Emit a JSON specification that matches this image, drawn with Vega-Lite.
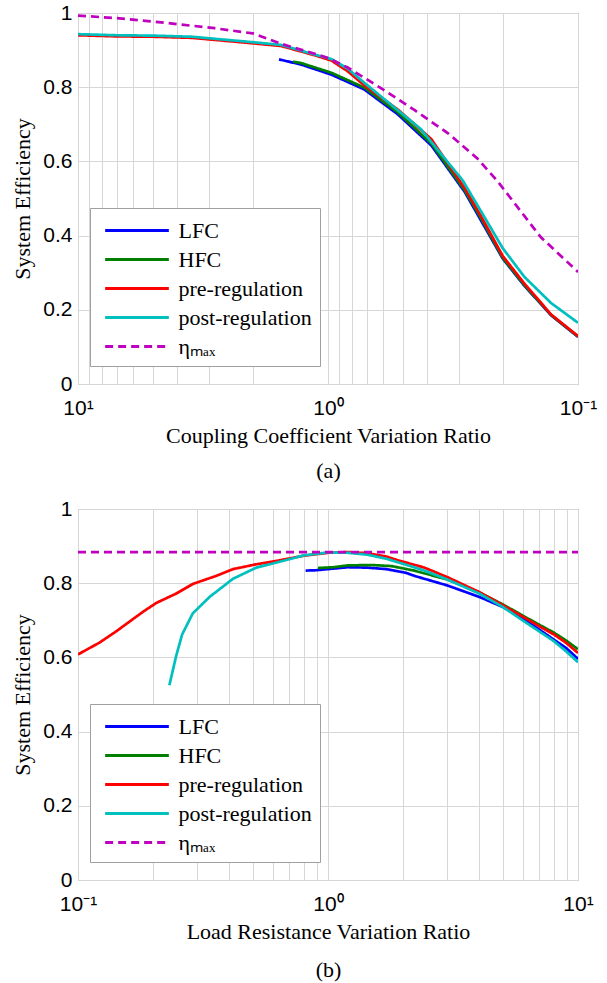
{
  "$schema": "https://vega.github.io/schema/vega-lite/v6.json",
  "background": "white",
  "padding": {"left": 11, "top": 1, "right": 10, "bottom": 5},
  "spacing": 125,
  "bounds": "flush",
  "datasets": {
    "top": [
      {"series": "LFC", "ratio": 1.57, "efficiency": 0.875},
      {"series": "LFC", "ratio": 1.28, "efficiency": 0.861},
      {"series": "LFC", "ratio": 0.97, "efficiency": 0.834},
      {"series": "LFC", "ratio": 0.716, "efficiency": 0.794},
      {"series": "LFC", "ratio": 0.526, "efficiency": 0.727},
      {"series": "LFC", "ratio": 0.386, "efficiency": 0.643},
      {"series": "LFC", "ratio": 0.284, "efficiency": 0.518},
      {"series": "LFC", "ratio": 0.244, "efficiency": 0.44},
      {"series": "LFC", "ratio": 0.2, "efficiency": 0.338},
      {"series": "LFC", "ratio": 0.164, "efficiency": 0.265},
      {"series": "LFC", "ratio": 0.128, "efficiency": 0.185},
      {"series": "LFC", "ratio": 0.1, "efficiency": 0.127},
      {"series": "HFC", "ratio": 1.38, "efficiency": 0.869},
      {"series": "HFC", "ratio": 1.28, "efficiency": 0.865},
      {"series": "HFC", "ratio": 0.97, "efficiency": 0.839},
      {"series": "HFC", "ratio": 0.716, "efficiency": 0.799},
      {"series": "HFC", "ratio": 0.526, "efficiency": 0.732},
      {"series": "HFC", "ratio": 0.386, "efficiency": 0.648},
      {"series": "HFC", "ratio": 0.284, "efficiency": 0.522},
      {"series": "HFC", "ratio": 0.244, "efficiency": 0.446},
      {"series": "HFC", "ratio": 0.2, "efficiency": 0.34},
      {"series": "HFC", "ratio": 0.164, "efficiency": 0.267},
      {"series": "HFC", "ratio": 0.128, "efficiency": 0.186},
      {"series": "HFC", "ratio": 0.1, "efficiency": 0.128},
      {"series": "pre-regulation", "ratio": 10, "efficiency": 0.94},
      {"series": "pre-regulation", "ratio": 7, "efficiency": 0.937},
      {"series": "pre-regulation", "ratio": 5, "efficiency": 0.936},
      {"series": "pre-regulation", "ratio": 3.5, "efficiency": 0.933},
      {"series": "pre-regulation", "ratio": 2.13, "efficiency": 0.92},
      {"series": "pre-regulation", "ratio": 1.54, "efficiency": 0.911},
      {"series": "pre-regulation", "ratio": 1.13, "efficiency": 0.886},
      {"series": "pre-regulation", "ratio": 0.97, "efficiency": 0.872},
      {"series": "pre-regulation", "ratio": 0.834, "efficiency": 0.843},
      {"series": "pre-regulation", "ratio": 0.716, "efficiency": 0.805},
      {"series": "pre-regulation", "ratio": 0.526, "efficiency": 0.74},
      {"series": "pre-regulation", "ratio": 0.386, "efficiency": 0.66},
      {"series": "pre-regulation", "ratio": 0.284, "efficiency": 0.528},
      {"series": "pre-regulation", "ratio": 0.244, "efficiency": 0.452},
      {"series": "pre-regulation", "ratio": 0.2, "efficiency": 0.345},
      {"series": "pre-regulation", "ratio": 0.164, "efficiency": 0.271},
      {"series": "pre-regulation", "ratio": 0.128, "efficiency": 0.187},
      {"series": "pre-regulation", "ratio": 0.1, "efficiency": 0.129},
      {"series": "post-regulation", "ratio": 10, "efficiency": 0.943},
      {"series": "post-regulation", "ratio": 7, "efficiency": 0.94},
      {"series": "post-regulation", "ratio": 5, "efficiency": 0.939},
      {"series": "post-regulation", "ratio": 3.5, "efficiency": 0.936},
      {"series": "post-regulation", "ratio": 2.13, "efficiency": 0.923},
      {"series": "post-regulation", "ratio": 1.54, "efficiency": 0.914},
      {"series": "post-regulation", "ratio": 1.13, "efficiency": 0.888},
      {"series": "post-regulation", "ratio": 0.97, "efficiency": 0.876},
      {"series": "post-regulation", "ratio": 0.834, "efficiency": 0.85},
      {"series": "post-regulation", "ratio": 0.716, "efficiency": 0.812},
      {"series": "post-regulation", "ratio": 0.551, "efficiency": 0.749},
      {"series": "post-regulation", "ratio": 0.425, "efficiency": 0.687},
      {"series": "post-regulation", "ratio": 0.332, "efficiency": 0.598},
      {"series": "post-regulation", "ratio": 0.29, "efficiency": 0.55},
      {"series": "post-regulation", "ratio": 0.244, "efficiency": 0.465},
      {"series": "post-regulation", "ratio": 0.2, "efficiency": 0.366},
      {"series": "post-regulation", "ratio": 0.164, "efficiency": 0.289},
      {"series": "post-regulation", "ratio": 0.128, "efficiency": 0.218},
      {"series": "post-regulation", "ratio": 0.1, "efficiency": 0.165},
      {"series": "ηₘₐₓ", "ratio": 10, "efficiency": 0.993},
      {"series": "ηₘₐₓ", "ratio": 7, "efficiency": 0.986},
      {"series": "ηₘₐₓ", "ratio": 5, "efficiency": 0.977},
      {"series": "ηₘₐₓ", "ratio": 2.84, "efficiency": 0.959},
      {"series": "ηₘₐₓ", "ratio": 2, "efficiency": 0.945},
      {"series": "ηₘₐₓ", "ratio": 1.54, "efficiency": 0.917},
      {"series": "ηₘₐₓ", "ratio": 1.13, "efficiency": 0.89},
      {"series": "ηₘₐₓ", "ratio": 1, "efficiency": 0.879},
      {"series": "ηₘₐₓ", "ratio": 0.834, "efficiency": 0.853},
      {"series": "ηₘₐₓ", "ratio": 0.612, "efficiency": 0.797},
      {"series": "ηₘₐₓ", "ratio": 0.45, "efficiency": 0.738},
      {"series": "ηₘₐₓ", "ratio": 0.33, "efficiency": 0.675},
      {"series": "ηₘₐₓ", "ratio": 0.252, "efficiency": 0.607},
      {"series": "ηₘₐₓ", "ratio": 0.21, "efficiency": 0.547},
      {"series": "ηₘₐₓ", "ratio": 0.141, "efficiency": 0.396},
      {"series": "ηₘₐₓ", "ratio": 0.1, "efficiency": 0.302}
    ],
    "bottom": [
      {"series": "LFC", "ratio": 0.814, "efficiency": 0.834},
      {"series": "LFC", "ratio": 0.9, "efficiency": 0.835},
      {"series": "LFC", "ratio": 1, "efficiency": 0.838},
      {"series": "LFC", "ratio": 1.2, "efficiency": 0.843},
      {"series": "LFC", "ratio": 1.43, "efficiency": 0.842},
      {"series": "LFC", "ratio": 1.71, "efficiency": 0.838},
      {"series": "LFC", "ratio": 2.05, "efficiency": 0.828},
      {"series": "LFC", "ratio": 2.21, "efficiency": 0.82},
      {"series": "LFC", "ratio": 3, "efficiency": 0.794},
      {"series": "LFC", "ratio": 4.03, "efficiency": 0.763},
      {"series": "LFC", "ratio": 5, "efficiency": 0.736},
      {"series": "LFC", "ratio": 6, "efficiency": 0.706},
      {"series": "LFC", "ratio": 7, "efficiency": 0.675},
      {"series": "LFC", "ratio": 8, "efficiency": 0.648},
      {"series": "LFC", "ratio": 8.94, "efficiency": 0.626},
      {"series": "LFC", "ratio": 10, "efficiency": 0.596},
      {"series": "HFC", "ratio": 0.912, "efficiency": 0.841},
      {"series": "HFC", "ratio": 1.05, "efficiency": 0.843},
      {"series": "HFC", "ratio": 1.2, "efficiency": 0.848},
      {"series": "HFC", "ratio": 1.5, "efficiency": 0.849},
      {"series": "HFC", "ratio": 1.8, "efficiency": 0.846},
      {"series": "HFC", "ratio": 2.21, "efficiency": 0.834},
      {"series": "HFC", "ratio": 3, "efficiency": 0.81},
      {"series": "HFC", "ratio": 4.03, "efficiency": 0.775},
      {"series": "HFC", "ratio": 5, "efficiency": 0.743},
      {"series": "HFC", "ratio": 6, "efficiency": 0.713},
      {"series": "HFC", "ratio": 7, "efficiency": 0.688},
      {"series": "HFC", "ratio": 8, "efficiency": 0.667},
      {"series": "HFC", "ratio": 8.94, "efficiency": 0.646},
      {"series": "HFC", "ratio": 10, "efficiency": 0.622},
      {"series": "pre-regulation", "ratio": 0.1, "efficiency": 0.608},
      {"series": "pre-regulation", "ratio": 0.122, "efficiency": 0.64},
      {"series": "pre-regulation", "ratio": 0.142, "efficiency": 0.67},
      {"series": "pre-regulation", "ratio": 0.182, "efficiency": 0.723},
      {"series": "pre-regulation", "ratio": 0.206, "efficiency": 0.747},
      {"series": "pre-regulation", "ratio": 0.247, "efficiency": 0.772},
      {"series": "pre-regulation", "ratio": 0.288, "efficiency": 0.798},
      {"series": "pre-regulation", "ratio": 0.358, "efficiency": 0.82},
      {"series": "pre-regulation", "ratio": 0.417, "efficiency": 0.838},
      {"series": "pre-regulation", "ratio": 0.517, "efficiency": 0.851},
      {"series": "pre-regulation", "ratio": 0.621, "efficiency": 0.86},
      {"series": "pre-regulation", "ratio": 0.8, "efficiency": 0.874},
      {"series": "pre-regulation", "ratio": 1, "efficiency": 0.882},
      {"series": "pre-regulation", "ratio": 1.2, "efficiency": 0.884},
      {"series": "pre-regulation", "ratio": 1.43, "efficiency": 0.881},
      {"series": "pre-regulation", "ratio": 1.71, "efficiency": 0.872},
      {"series": "pre-regulation", "ratio": 1.9, "efficiency": 0.862},
      {"series": "pre-regulation", "ratio": 2.43, "efficiency": 0.842},
      {"series": "pre-regulation", "ratio": 3.01, "efficiency": 0.816},
      {"series": "pre-regulation", "ratio": 4.03, "efficiency": 0.776},
      {"series": "pre-regulation", "ratio": 5, "efficiency": 0.741},
      {"series": "pre-regulation", "ratio": 6, "efficiency": 0.71},
      {"series": "pre-regulation", "ratio": 7, "efficiency": 0.684},
      {"series": "pre-regulation", "ratio": 8, "efficiency": 0.662},
      {"series": "pre-regulation", "ratio": 8.94, "efficiency": 0.64},
      {"series": "pre-regulation", "ratio": 10, "efficiency": 0.612},
      {"series": "post-regulation", "ratio": 0.232, "efficiency": 0.525},
      {"series": "post-regulation", "ratio": 0.247, "efficiency": 0.604},
      {"series": "post-regulation", "ratio": 0.261, "efficiency": 0.662},
      {"series": "post-regulation", "ratio": 0.288, "efficiency": 0.719},
      {"series": "post-regulation", "ratio": 0.336, "efficiency": 0.763},
      {"series": "post-regulation", "ratio": 0.417, "efficiency": 0.812},
      {"series": "post-regulation", "ratio": 0.517, "efficiency": 0.842},
      {"series": "post-regulation", "ratio": 0.66, "efficiency": 0.86},
      {"series": "post-regulation", "ratio": 0.8, "efficiency": 0.875},
      {"series": "post-regulation", "ratio": 1, "efficiency": 0.883},
      {"series": "post-regulation", "ratio": 1.2, "efficiency": 0.882},
      {"series": "post-regulation", "ratio": 1.43, "efficiency": 0.877},
      {"series": "post-regulation", "ratio": 1.71, "efficiency": 0.866},
      {"series": "post-regulation", "ratio": 2, "efficiency": 0.852},
      {"series": "post-regulation", "ratio": 2.43, "efficiency": 0.834},
      {"series": "post-regulation", "ratio": 3, "efficiency": 0.81},
      {"series": "post-regulation", "ratio": 4.03, "efficiency": 0.772},
      {"series": "post-regulation", "ratio": 5, "efficiency": 0.736},
      {"series": "post-regulation", "ratio": 6, "efficiency": 0.7},
      {"series": "post-regulation", "ratio": 7, "efficiency": 0.67},
      {"series": "post-regulation", "ratio": 8, "efficiency": 0.644},
      {"series": "post-regulation", "ratio": 8.94, "efficiency": 0.617},
      {"series": "post-regulation", "ratio": 10, "efficiency": 0.587},
      {"series": "ηₘₐₓ", "ratio": 0.1, "efficiency": 0.884},
      {"series": "ηₘₐₓ", "ratio": 10, "efficiency": 0.884}
    ]
  },
  "vconcat": [
    {
      "width": 500,
      "height": 371,
      "data": {"name": "top"},
      "mark": {"type": "line", "strokeWidth": 2.7, "clip": true},
      "encoding": {
        "x": {
          "field": "ratio", "type": "quantitative",
          "scale": {"type": "log", "domain": [0.1, 10], "reverse": true, "nice": false},
          "axis": {
            "title": ["Coupling Coefficient Variation Ratio", "(a)"],
            "values": [0.1, 0.2, 0.3, 0.4, 0.5, 0.6, 0.7, 0.8, 0.9, 1, 2, 3, 4, 5, 6, 7, 8, 9, 10],
            "labelExpr": "abs(datum.value-10)<1e-6 ? '10¹' : abs(datum.value-1)<1e-6 ? '10⁰' : abs(datum.value-0.1)<1e-6 ? '10⁻¹' : ''",
            "labelOverlap": false, "labelFlush": false, "labelPadding": 13,
            "titlePadding": 7, "titleLineHeight": 35
          }
        },
        "y": {
          "field": "efficiency", "type": "quantitative",
          "scale": {"domain": [0, 1], "nice": false, "zero": false},
          "axis": {
            "title": "System Efficiency",
            "values": [0, 0.2, 0.4, 0.6, 0.8, 1],
            "labelExpr": "datum.value == 0 ? '0' : datum.value == 1 ? '1' : format(datum.value, '.1f')",
            "labelPadding": 6, "titlePadding": 8
          }
        },
        "color": {
          "field": "series", "type": "nominal",
          "scale": {"domain": ["LFC", "HFC", "pre-regulation", "post-regulation", "ηₘₐₓ"], "range": ["#0000FF", "#008000", "#FF0000", "#00BFBF", "#BF00BF"]},
          "legend": {"title": null, "orient": "none", "legendX": 12, "legendY": 195}
        },
        "strokeDash": {
          "field": "series", "type": "nominal",
          "scale": {"domain": ["LFC", "HFC", "pre-regulation", "post-regulation", "ηₘₐₓ"], "range": [[1, 0], [1, 0], [1, 0], [1, 0], [8, 5]]},
          "legend": {"title": null, "orient": "none", "legendX": 12, "legendY": 195}
        }
      }
    },
    {
      "width": 500,
      "height": 371,
      "data": {"name": "bottom"},
      "mark": {"type": "line", "strokeWidth": 2.7, "clip": true},
      "encoding": {
        "x": {
          "field": "ratio", "type": "quantitative",
          "scale": {"type": "log", "domain": [0.1, 10], "nice": false},
          "axis": {
            "title": ["Load Resistance Variation Ratio", "(b)"],
            "values": [0.1, 0.2, 0.3, 0.4, 0.5, 0.6, 0.7, 0.8, 0.9, 1, 2, 3, 4, 5, 6, 7, 8, 9, 10],
            "labelExpr": "abs(datum.value-10)<1e-6 ? '10¹' : abs(datum.value-1)<1e-6 ? '10⁰' : abs(datum.value-0.1)<1e-6 ? '10⁻¹' : ''",
            "labelOverlap": false, "labelFlush": false, "labelPadding": 13,
            "titlePadding": 7, "titleLineHeight": 38
          }
        },
        "y": {
          "field": "efficiency", "type": "quantitative",
          "scale": {"domain": [0, 1], "nice": false, "zero": false},
          "axis": {
            "title": "System Efficiency",
            "values": [0, 0.2, 0.4, 0.6, 0.8, 1],
            "labelExpr": "datum.value == 0 ? '0' : datum.value == 1 ? '1' : format(datum.value, '.1f')",
            "labelPadding": 6, "titlePadding": 8
          }
        },
        "color": {
          "field": "series", "type": "nominal",
          "scale": {"domain": ["LFC", "HFC", "pre-regulation", "post-regulation", "ηₘₐₓ"], "range": ["#0000FF", "#008000", "#FF0000", "#00BFBF", "#BF00BF"]},
          "legend": {"title": null, "orient": "none", "legendX": 12, "legendY": 195}
        },
        "strokeDash": {
          "field": "series", "type": "nominal",
          "scale": {"domain": ["LFC", "HFC", "pre-regulation", "post-regulation", "ηₘₐₓ"], "range": [[1, 0], [1, 0], [1, 0], [1, 0], [8, 5]]},
          "legend": {"title": null, "orient": "none", "legendX": 12, "legendY": 195}
        }
      }
    }
  ],
  "resolve": {"scale": {"x": "independent", "y": "independent", "color": "independent", "strokeDash": "independent"}},
  "config": {
    "view": {"stroke": "#a8a8a8", "strokeWidth": 1},
    "axis": {
      "grid": true, "gridColor": "#d6d6d6", "gridWidth": 1,
      "domain": false, "ticks": false, "tickSize": 0,
      "labelFont": "Liberation Sans", "labelFontSize": 21, "labelColor": "#000000",
      "titleFont": "Liberation Serif", "titleFontSize": 22, "titleFontWeight": "normal", "titleColor": "#000000"
    },
    "legend": {
      "fillColor": "white", "strokeColor": "#a0a0a0", "padding": 8,
      "labelFont": "Liberation Serif", "labelFontSize": 22, "labelColor": "#000000",
      "symbolType": "M-2.45,0H2.45", "symbolSize": 676, "symbolStrokeWidth": 3,
      "symbolOffset": 24.5, "labelOffset": 27, "rowPadding": 3
    }
  }
}
